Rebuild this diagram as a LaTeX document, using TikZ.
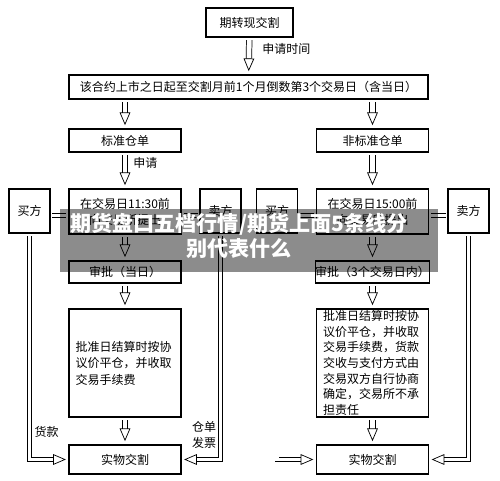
\documentclass[tikz,border=0pt]{standalone}
\usepackage{fontspec}
\setmainfont{Noto Sans CJK SC}
\usepackage{tikz}
\usetikzlibrary{arrows.meta,calc}

\tikzset{
  box/.style={draw, line width=0.8pt, inner sep=0pt, align=center, font=\fontsize{9pt}{12pt}\selectfont},
  harrow/.style={line width=0.55pt, double=white, double distance=3.6pt, -{Triangle[open, length=9.5pt, width=8pt, line width=0.55pt]}, shorten <=2pt, shorten >=2.5pt},
  pipe/.style={line width=0.55pt, double=white, double distance=2.6pt},
  sidearrow/.style={pipe, -{Triangle[open, length=9.5pt, width=8pt, line width=0.55pt]}, shorten <=2pt, shorten >=2pt},
  lbl/.style={inner sep=0.75pt, align=center, font=\fontsize{9pt}{12pt}\selectfont},
}

\begin{document}
\begin{tikzpicture}[x=0.75pt,y=0.75pt,yscale=-1,xscale=1]
            \useasboundingbox (0,0) rectangle (500,481);

            %Shape: Rectangle 
            \node [box, minimum width=65.25pt, minimum height=21.75pt] (efp) at (249.5,22.5) {期转现交割};
            %Shape: Rectangle 
            \node [box, minimum width=269.25pt, minimum height=18pt] (period) at (248.5,87) {该合约上市之日起至交割月前1个月倒数第3个交易日（含当日）};
            %Shape: Rectangle 
            \node [box, minimum width=84pt, minimum height=17.25pt] (stdL) at (125,140.5) {标准仓单};
            %Shape: Rectangle 
            \node [box, minimum width=84pt, minimum height=17.25pt] (stdR) at (372.5,140.5) {非标准仓单};

            %Shape: Rectangle 
            \node [box, minimum width=30.75pt, minimum height=33pt] (buyL) at (29.5,211) {买方};
            %Shape: Rectangle 
            \node [box, minimum width=84pt, minimum height=33.75pt] (reqL) at (125,211.5) {在交易日11:30前\\向交易所提出};
            %Shape: Rectangle 
            \node [box, minimum width=30.75pt, minimum height=33pt] (sellL) at (220.5,211) {卖方};
            %Shape: Rectangle 
            \node [box, minimum width=30.75pt, minimum height=33pt] (buyR) at (277,211) {买方};
            %Shape: Rectangle 
            \node [box, minimum width=84pt, minimum height=33.75pt] (reqR) at (372.5,211.5) {在交易日15:00前\\向交易所提出};
            %Shape: Rectangle 
            \node [box, minimum width=30.75pt, minimum height=33pt] (sellR) at (468.5,211) {卖方};

            %Shape: Rectangle 
            \node [box, minimum width=84pt, minimum height=16.5pt] (chkL) at (125,272) {审批（当日）};
            %Shape: Rectangle 
            \node [box, minimum width=84pt, minimum height=16.5pt] (chkR) at (372.5,272) {审批（3个交易日内）};
            %Shape: Rectangle 
            \node [box, minimum width=84pt, minimum height=81pt, text width=74pt, align=left, font=\fontsize{9pt}{12.4pt}\selectfont] (clrL) at (125,363) {批准日结算时按协\\议价平仓，并收取\\交易手续费};
            %Shape: Rectangle 
            \node [box, minimum width=84pt, minimum height=81pt, text width=74pt, align=left, font=\fontsize{9pt}{11.7pt}\selectfont] (clrR) at (372.5,363) {批准日结算时按协\\议价平仓，并收取\\交易手续费，货款\\交收与支付方式由\\交易双方自行协商\\确定，交易所不承\\担责任};
            %Shape: Rectangle 
            \node [box, minimum width=84pt, minimum height=21.75pt] (delL) at (125,459.5) {实物交割};
            %Shape: Rectangle 
            \node [box, minimum width=84pt, minimum height=21.75pt] (delR) at (372.5,459.5) {实物交割};

            %Straight Lines 
            \draw [harrow] (efp) -- (period);
            \draw [harrow] (period.south -| stdL) -- (stdL);
            \draw [harrow] (period.south -| stdR) -- (stdR);
            \draw [harrow] (stdL) -- (reqL);
            \draw [harrow] (stdR) -- (reqR);
            \draw [harrow] (reqL) -- (chkL);
            \draw [harrow] (reqR) -- (chkR);
            \draw [harrow] (chkL) -- (clrL);
            \draw [harrow] (chkR) -- (clrR);
            \draw [harrow] (clrL) -- (delL);
            \draw [harrow] (clrR) -- (delR);

            %Straight Lines 
            \draw [pipe] ($(buyL.east)+(1.5,4.5)$) -- ($(reqL.west)+(-2,4)$);
            \draw [pipe] ($(reqL.east)+(2,4)$) -- ($(sellL.west)+(-1.5,4.5)$);
            \draw [pipe] ($(buyR.east)+(1.5,4.5)$) -- ($(reqR.west)+(-2,4)$);
            \draw [pipe] ($(reqR.east)+(2,4)$) -- ($(sellR.west)+(-1.5,4.5)$);

            %Straight Lines 
            \draw [sidearrow] (buyL) |- (delL);
            \draw [sidearrow] (sellL) |- (delL);
            \draw [sidearrow] (buyR) |- (delR);
            \draw [sidearrow] (sellR) |- (delR);

            % Text Node
            \node [lbl, anchor=west] (tApplyTime) at (261,49) {申请时间};
            % Text Node
            \node [lbl, anchor=west] (tApply) at (132,163) {申请};
            % Text Node
            \node [lbl] (tPay) at (46.5,432) {货款};
            % Text Node
            \node [lbl] (tReceipt) at (204,435) {仓单\\发票};

            %Shape: Rectangle 
            \node [fill=black, fill opacity=0.45, minimum width=283.5pt, minimum height=47.25pt, inner sep=0pt] (banner) at (249,240.5) {};
            % Text Node
            \node [text=white, align=center, inner sep=0pt, font=\bfseries\fontsize{15.8pt}{19pt}\selectfont] (bannerText) at (239,236) {期货盘口五档行情/期货上面5条线分\\别代表什么};

\end{tikzpicture}
\end{document}
